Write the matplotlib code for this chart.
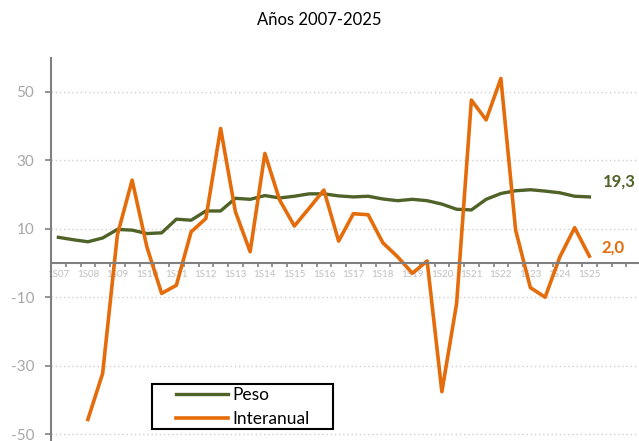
import matplotlib
matplotlib.use("Agg")
import matplotlib.pyplot as plt
from matplotlib.patches import Rectangle
import numpy as np

plt.rcParams['font.family'] = ['Lato', 'DejaVu Sans']

# semesters 1S07 .. 1S25
periods = []
for yr in range(7, 26):
    periods.append("1S%02d" % yr)
    if yr < 25:
        periods.append("2S%02d" % yr)

peso = [7.5, 6.8, 6.2, 7.3, 9.8, 9.6, 8.6, 8.8, 12.8, 12.5,
        15.2, 15.2, 18.9, 18.6, 19.7, 19.0, 19.5, 20.2, 20.2, 19.6,
        19.3, 19.5, 18.7, 18.2, 18.6, 18.2, 17.2, 15.7, 15.5, 18.6,
        20.3, 21.1, 21.4, 21.0, 20.5, 19.5, 19.3]
interanual = [np.nan, np.nan, -45.7, -32.3, 8.2, 24.2, 4.7, -8.9, -6.5, 9.1,
              13.0, 39.3, 15.0, 3.3, 32.0, 18.4, 10.8, 16.0, 21.3, 6.4,
              14.4, 14.1, 5.9, 1.8, -3.0, 0.6, -37.6, -11.8, 47.6, 41.8,
              53.9, 9.6, -7.2, -10.0, 1.8, 10.3, 2.0]

green = '#4F6228'
orange = '#E46C0A'
gray = '#808080'

fig = plt.figure(figsize=(6.39, 4.41), dpi=100)
ax = fig.add_axes([51 / 639, 0.0, 590 / 639, 383.4 / 441])

x = np.arange(len(periods))
ax.plot(x, peso, color=green, lw=2.4, label='Peso', solid_joinstyle='round')
ax.plot(x, interanual, color=orange, lw=2.6, label='Interanual', solid_joinstyle='round')

ax.set_xlim(-0.5, 39.5)
ax.set_ylim(-52, 60)

# y axis
yt = [-50, -30, -10, 10, 30, 50]
ax.set_yticks(yt)
ax.set_yticklabels([str(v) for v in yt])
ax.tick_params(axis='y', colors=gray, labelcolor='#A6A6A6', labelsize=11,
               length=4, width=1.2, pad=8)
for v in yt:
    ax.axhline(v, color='#D0D0D0', lw=1, ls=(0, (1, 2)), zorder=0)

# x axis at zero
ax.spines['bottom'].set_position(('data', 0))
ax.spines['bottom'].set_color(gray)
ax.spines['bottom'].set_linewidth(1.5)
ax.spines['left'].set_color(gray)
ax.spines['left'].set_linewidth(1.5)
ax.spines['top'].set_visible(False)
ax.spines['right'].set_visible(False)

ax.set_xticks(np.arange(-0.5, 40, 1))
ax.set_xticklabels([])
ax.tick_params(axis='x', which='major', colors=gray, length=3, width=1.2, direction='out')
ax.set_xticks(x[::2], minor=True)
ax.set_xticklabels(periods[::2], minor=True)
ax.tick_params(axis='x', which='minor', length=0, pad=5, labelsize=7, labelcolor='#BFBFBF')

# end labels
ax.annotate(f"{peso[-1]:.1f}".replace('.', ','), xy=(x[-1], peso[-1]),
            xytext=(9.5, 11), textcoords='offset points', color=green,
            fontsize=12, fontweight='bold', va='center', ha='left')
ax.annotate(f"{interanual[-1]:.1f}".replace('.', ','), xy=(x[-1], interanual[-1]),
            xytext=(8.5, 6.5), textcoords='offset points', color=orange,
            fontsize=12, fontweight='bold', va='center', ha='left')

# legend box (drawn separately so it can be wider than the entries)
box = Rectangle((152 / 639, 1 - 429 / 441), 181 / 639, 45 / 441,
                transform=fig.transFigure, facecolor='white', edgecolor='black',
                lw=1.5, zorder=4, clip_on=False)
ax.add_patch(box)
leg = ax.legend(loc='upper left', bbox_to_anchor=(176 / 639, 1 - 387 / 441),
                bbox_transform=fig.transFigure, fontsize=12.5, frameon=False,
                handlelength=3.0, handletextpad=0.23, borderpad=0,
                labelspacing=0.45, borderaxespad=0)
leg.set_zorder(5)

fig.text(0.5, 1 - 20 / 441, "Años 2007-2025", ha='center', va='center', fontsize=12)

plt.savefig("out.png", dpi=100)
